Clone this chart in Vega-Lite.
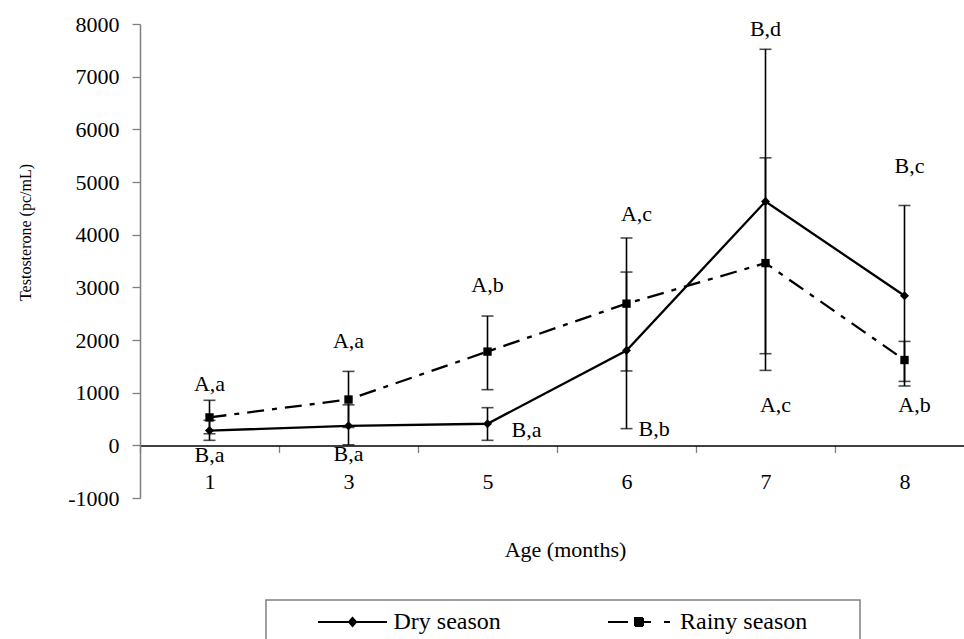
{
  "$schema": "https://vega.github.io/schema/vega-lite/v6.json",
  "width": 824,
  "height": 474,
  "autosize": {"type": "none"},
  "padding": {"left": 140, "top": 24, "right": 0, "bottom": 141},
  "background": "white",
  "config": {
    "view": {"stroke": null},
    "font": "Liberation Serif",
    "text": {"font": "Liberation Serif"}
  },
  "datasets": {
    "points": [
      {"Age": "1", "series": "Dry season", "value": 280, "lo": 95, "hi": 475},
      {"Age": "3", "series": "Dry season", "value": 370, "lo": 10, "hi": 770},
      {"Age": "5", "series": "Dry season", "value": 410, "lo": 95, "hi": 715},
      {"Age": "6", "series": "Dry season", "value": 1800, "lo": 317, "hi": 3290},
      {"Age": "7", "series": "Dry season", "value": 4630, "lo": 1740, "hi": 7520},
      {"Age": "8", "series": "Dry season", "value": 2840, "lo": 1127, "hi": 4554},
      {"Age": "1", "series": "Rainy season", "value": 530, "lo": 220, "hi": 855},
      {"Age": "3", "series": "Rainy season", "value": 870, "lo": 340, "hi": 1404},
      {"Age": "5", "series": "Rainy season", "value": 1780, "lo": 1057, "hi": 2455},
      {"Age": "6", "series": "Rainy season", "value": 2690, "lo": 1412, "hi": 3937},
      {"Age": "7", "series": "Rainy season", "value": 3460, "lo": 1423, "hi": 5459},
      {"Age": "8", "series": "Rainy season", "value": 1620, "lo": 1214, "hi": 1973}
    ],
    "notes": [
      {"Age": "1", "label": "A,a", "y": 1170},
      {"Age": "1", "label": "B,a", "y": -190},
      {"Age": "3", "label": "A,a", "y": 1990},
      {"Age": "3", "label": "B,a", "y": -170},
      {"Age": "5", "label": "A,b", "y": 3036},
      {"Age": "5", "label": "B,a", "y": 285},
      {"Age": "6", "label": "A,c", "y": 4397},
      {"Age": "6", "label": "B,b", "y": 317},
      {"Age": "7", "label": "B,d", "y": 7907},
      {"Age": "7", "label": "A,c", "y": 759},
      {"Age": "8", "label": "B,c", "y": 5313},
      {"Age": "8", "label": "A,b", "y": 759}
    ]
  },
  "encoding": {
    "x": {
      "field": "Age",
      "type": "nominal",
      "scale": {"type": "band", "domain": ["1", "3", "5", "6", "7", "8"], "range": [0, 834], "paddingInner": 0, "paddingOuter": 0},
      "axis": {
        "title": "Age (months)",
        "titleFont": "Liberation Serif",
        "titleFontSize": 22,
        "titleFontWeight": "normal",
        "titleColor": "black",
        "titleX": 425,
        "titleY": 104,
        "titleBaseline": "middle",
        "labelAngle": 0,
        "labelFont": "Liberation Serif",
        "labelFontSize": 22,
        "labelColor": "black",
        "labelPadding": 29,
        "labelBaseline": "middle",
        "tickBand": "extent",
        "tickSize": 7,
        "tickColor": "#808080",
        "tickWidth": 1.3,
        "domainColor": "black",
        "domainWidth": 1.3,
        "offset": -52.5,
        "grid": false
      }
    }
  },
  "layer": [
    {
      "data": {"name": "points"},
      "mark": {"type": "rule", "color": "black", "strokeWidth": 1.6},
      "encoding": {
        "y": {
          "field": "lo",
          "type": "quantitative",
          "title": "Testosterone (pc/mL)",
          "scale": {"domain": [-1000, 8000], "nice": false, "zero": false},
          "axis": {
            "title": "Testosterone (pc/mL)",
            "titleFont": "Liberation Serif",
            "titleFontSize": 16,
            "titleFontWeight": "normal",
            "titleColor": "black",
            "titleX": -115,
            "titleY": 208,
            "titleBaseline": "middle",
            "values": [-1000, 0, 1000, 2000, 3000, 4000, 5000, 6000, 7000, 8000],
            "labelExpr": "datum.value < 0 ? '-' + format(-datum.value, 'd') : format(datum.value, 'd')",
            "labelFont": "Liberation Serif",
            "labelFontSize": 22,
            "labelColor": "black",
            "labelPadding": 13,
            "tickSize": 8,
            "tickColor": "#808080",
            "tickWidth": 1.3,
            "domainColor": "#808080",
            "domainWidth": 1.5,
            "grid": false
          }
        },
        "y2": {"field": "hi"}
      }
    },
    {
      "data": {"name": "points"},
      "mark": {"type": "tick", "color": "black", "size": 12, "thickness": 1.6, "orient": "horizontal"},
      "encoding": {"y": {"field": "lo", "type": "quantitative", "title": "Testosterone (pc/mL)"}}
    },
    {
      "data": {"name": "points"},
      "mark": {"type": "tick", "color": "black", "size": 12, "thickness": 1.6, "orient": "horizontal"},
      "encoding": {"y": {"field": "hi", "type": "quantitative", "title": "Testosterone (pc/mL)"}}
    },
    {
      "data": {"name": "points"},
      "transform": [{"filter": "datum.series === 'Rainy season'"}],
      "mark": {"type": "line", "strokeWidth": 2.3, "strokeDash": [17, 8, 5, 8]},
      "encoding": {
        "y": {"field": "value", "type": "quantitative", "title": "Testosterone (pc/mL)"},
        "color": {
          "field": "series",
          "type": "nominal",
          "scale": {"domain": ["Dry season", "Rainy season"], "range": ["black", "black"]},
          "legend": {
            "title": ".",
            "titleOrient": "right",
            "titleColor": "transparent",
            "titleFontSize": 6,
            "titlePadding": 41,
            "orient": "none",
            "legendX": 126,
            "legendY": 576,
            "direction": "horizontal",
            "padding": 10,
            "strokeColor": "#808080",
            "labelFont": "Liberation Serif",
            "labelFontSize": 24,
            "labelColor": "black",
            "labelOffset": 29,
            "symbolOffset": 64.5,
            "symbolSize": 100,
            "symbolStrokeWidth": 2,
            "symbolFillColor": "black",
            "symbolStrokeColor": "black",
            "symbolType": "M-6.9,0H6.9M-0.7,0L0,-0.8L0.7,0L0,0.8Z",
            "columnPadding": 61.5,
            "encode": {
              "legend": {"update": {"strokeWidth": {"value": 1.5}}},
              "symbols": {
                "update": {
                  "shape": {"signal": "datum.value === 'Dry season' ? 'M-6.9,0H6.9M-0.7,0L0,-0.8L0.7,0L0,0.8Z' : 'M-6.2,0H-2.2M-0.8,-0.8H0.8V0.8H-0.8ZM0.8,0H2.4M5,0H6.2'"},
                  "fill": {"value": "black"},
                  "stroke": {"value": "black"},
                  "strokeWidth": {"value": 2},
                  "strokeDash": {"value": [1, 0]}
                }
              }
            }
          }
        }
      }
    },
    {
      "data": {"name": "points"},
      "transform": [{"filter": "datum.series === 'Dry season'"}],
      "mark": {"type": "line", "strokeWidth": 2.3},
      "encoding": {
        "y": {"field": "value", "type": "quantitative", "title": "Testosterone (pc/mL)"},
        "color": {
          "field": "series",
          "type": "nominal",
          "scale": {"domain": ["Dry season", "Rainy season"], "range": ["black", "black"]},
          "legend": {
            "title": ".",
            "titleOrient": "right",
            "titleColor": "transparent",
            "titleFontSize": 6,
            "titlePadding": 41,
            "orient": "none",
            "legendX": 126,
            "legendY": 576,
            "direction": "horizontal",
            "padding": 10,
            "strokeColor": "#808080",
            "labelFont": "Liberation Serif",
            "labelFontSize": 24,
            "labelColor": "black",
            "labelOffset": 29,
            "symbolOffset": 64.5,
            "symbolSize": 100,
            "symbolStrokeWidth": 2,
            "symbolFillColor": "black",
            "symbolStrokeColor": "black",
            "symbolType": "M-6.9,0H6.9M-0.7,0L0,-0.8L0.7,0L0,0.8Z",
            "columnPadding": 61.5,
            "encode": {
              "legend": {"update": {"strokeWidth": {"value": 1.5}}},
              "symbols": {
                "update": {
                  "shape": {"signal": "datum.value === 'Dry season' ? 'M-6.9,0H6.9M-0.7,0L0,-0.8L0.7,0L0,0.8Z' : 'M-6.2,0H-2.2M-0.8,-0.8H0.8V0.8H-0.8ZM0.8,0H2.4M5,0H6.2'"},
                  "fill": {"value": "black"},
                  "stroke": {"value": "black"},
                  "strokeWidth": {"value": 2},
                  "strokeDash": {"value": [1, 0]}
                }
              }
            }
          }
        }
      }
    },
    {
      "data": {"name": "points"},
      "transform": [{"filter": "datum.series === 'Rainy season'"}],
      "mark": {"type": "point", "shape": "square", "filled": true, "color": "black", "size": 70, "opacity": 1},
      "encoding": {"y": {"field": "value", "type": "quantitative", "title": "Testosterone (pc/mL)"}}
    },
    {
      "data": {"name": "points"},
      "transform": [{"filter": "datum.series === 'Dry season'"}],
      "mark": {"type": "point", "shape": "diamond", "filled": true, "color": "black", "size": 80, "opacity": 1},
      "encoding": {"y": {"field": "value", "type": "quantitative", "title": "Testosterone (pc/mL)"}}
    },
    {
      "data": {"name": "notes"},
      "transform": [{"filter": "!((datum.Age === '5' && datum.label === 'B,a') || (datum.Age === '6') || (datum.Age === '7' && datum.label === 'A,c') || datum.Age === '8')"}],
      "mark": {"type": "text", "font": "Liberation Serif", "fontSize": 22, "color": "black", "align": "center", "baseline": "middle"},
      "encoding": {"y": {"field": "y", "type": "quantitative", "title": "Testosterone (pc/mL)"}, "text": {"field": "label"}}
    },
    {
      "data": {"name": "notes"},
      "transform": [{"filter": "(datum.Age === '6' && datum.label === 'A,c') || (datum.Age === '7' && datum.label === 'A,c') || (datum.Age === '8' && datum.label === 'A,b')"}],
      "mark": {"type": "text", "font": "Liberation Serif", "fontSize": 22, "color": "black", "align": "center", "baseline": "middle", "dx": 10},
      "encoding": {"y": {"field": "y", "type": "quantitative", "title": "Testosterone (pc/mL)"}, "text": {"field": "label"}}
    },
    {
      "data": {"name": "notes"},
      "transform": [{"filter": "datum.Age === '8' && datum.label === 'B,c'"}],
      "mark": {"type": "text", "font": "Liberation Serif", "fontSize": 22, "color": "black", "align": "center", "baseline": "middle", "dx": 5},
      "encoding": {"y": {"field": "y", "type": "quantitative", "title": "Testosterone (pc/mL)"}, "text": {"field": "label"}}
    },
    {
      "data": {"name": "notes"},
      "transform": [{"filter": "datum.Age === '5' && datum.label === 'B,a'"}],
      "mark": {"type": "text", "font": "Liberation Serif", "fontSize": 22, "color": "black", "align": "left", "baseline": "middle", "dx": 24},
      "encoding": {"y": {"field": "y", "type": "quantitative", "title": "Testosterone (pc/mL)"}, "text": {"field": "label"}}
    },
    {
      "data": {"name": "notes"},
      "transform": [{"filter": "datum.Age === '6' && datum.label === 'B,b'"}],
      "mark": {"type": "text", "font": "Liberation Serif", "fontSize": 22, "color": "black", "align": "left", "baseline": "middle", "dx": 12},
      "encoding": {"y": {"field": "y", "type": "quantitative", "title": "Testosterone (pc/mL)"}, "text": {"field": "label"}}
    }
  ]
}
